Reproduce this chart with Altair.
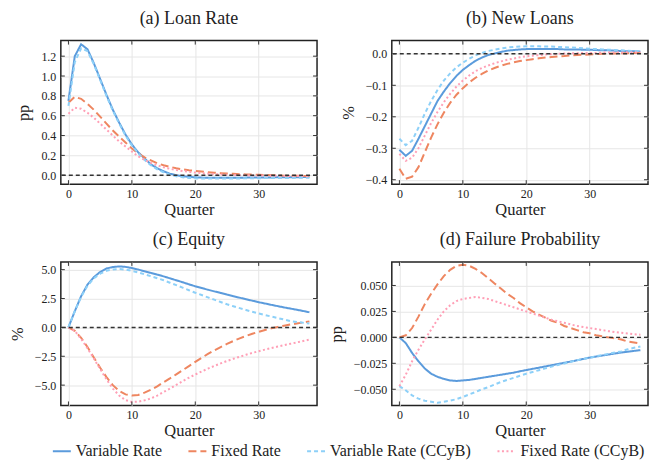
import altair as alt
import pandas as pd

quarters = list(range(39))
series_names = ["Variable Rate", "Fixed Rate", "Variable Rate (CCyB)", "Fixed Rate (CCyB)"]
series_colors = ["#5b9bdc", "#ee8660", "#8dd0f8", "#ff9fb6"]
series_dashes = [[1, 0], [8, 4], [4, 3], [2, 2.5]]

# (a) Loan Rate, pp
VR_a = [0.75, 1.20, 1.32, 1.27, 1.13, 0.97, 0.81, 0.66, 0.53, 0.41, 0.31, 0.23, 0.17, 0.11, 0.07, 0.04, 0.015, 0.0,
        -0.01, -0.017, -0.021, -0.024, -0.025, -0.026, -0.026, -0.026, -0.025, -0.025, -0.024, -0.024, -0.023, -0.022,
        -0.022, -0.021, -0.021, -0.020, -0.020, -0.019, -0.019]
FR_a = [0.73, 0.79, 0.77, 0.72, 0.66, 0.59, 0.52, 0.45, 0.39, 0.33, 0.27, 0.22, 0.18, 0.15, 0.12, 0.10, 0.085, 0.07,
        0.06, 0.05, 0.043, 0.037, 0.031, 0.026, 0.021, 0.017, 0.014, 0.011, 0.008, 0.006, 0.004, 0.002, 0.0, -0.002,
        -0.004, -0.005, -0.006, -0.007, -0.008]
VC_a = [0.70, 1.14, 1.28, 1.25, 1.12, 0.96, 0.80, 0.65, 0.52, 0.40, 0.30, 0.22, 0.155, 0.10, 0.06, 0.03, 0.005, -0.01,
        -0.02, -0.027, -0.031, -0.033, -0.034, -0.034, -0.034, -0.033, -0.033, -0.032, -0.031, -0.030, -0.030, -0.029,
        -0.028, -0.028, -0.027, -0.027, -0.026, -0.026, -0.025]
FC_a = [0.62, 0.68, 0.67, 0.63, 0.58, 0.52, 0.46, 0.40, 0.34, 0.29, 0.24, 0.19, 0.155, 0.125, 0.10, 0.08, 0.065, 0.052,
        0.042, 0.034, 0.027, 0.021, 0.016, 0.012, 0.008, 0.005, 0.003, 0.001, -0.001, -0.002, -0.003, -0.004, -0.005,
        -0.006, -0.007, -0.008, -0.009, -0.009, -0.010]

# (b) New Loans, %
VR_b = [-0.305, -0.324, -0.308, -0.27, -0.23, -0.19, -0.15, -0.12, -0.093, -0.07, -0.051, -0.036, -0.022, -0.012,
        -0.004, 0.001, 0.006, 0.010, 0.012, 0.014, 0.015, 0.015, 0.015, 0.015, 0.015, 0.015, 0.014, 0.014, 0.014, 0.013,
        0.013, 0.012, 0.011, 0.011, 0.010, 0.009, 0.008, 0.008, 0.007]
FR_b = [-0.365, -0.397, -0.39, -0.36, -0.313, -0.266, -0.224, -0.187, -0.156, -0.13, -0.109, -0.091, -0.076, -0.064,
        -0.053, -0.045, -0.038, -0.032, -0.027, -0.023, -0.020, -0.017, -0.014, -0.012, -0.010, -0.008, -0.007, -0.005,
        -0.004, -0.003, -0.002, -0.001, 0.0, 0.001, 0.001, 0.002, 0.002, 0.003, 0.003]
VC_b = [-0.27, -0.29, -0.276, -0.235, -0.19, -0.15, -0.115, -0.085, -0.062, -0.043, -0.028, -0.016, -0.005, 0.003,
        0.009, 0.013, 0.017, 0.020, 0.022, 0.023, 0.024, 0.024, 0.024, 0.023, 0.023, 0.022, 0.021, 0.020, 0.019, 0.018,
        0.016, 0.015, 0.014, 0.013, 0.012, 0.011, 0.010, 0.009, 0.009]
FC_b = [-0.318, -0.34, -0.33, -0.30, -0.26, -0.22, -0.185, -0.154, -0.127, -0.104, -0.085, -0.069, -0.055, -0.045,
        -0.037, -0.030, -0.024, -0.019, -0.015, -0.011, -0.008, -0.006, -0.004, -0.002, -0.001, 0.0, 0.001, 0.002,
        0.002, 0.003, 0.003, 0.003, 0.004, 0.004, 0.004, 0.004, 0.005, 0.005, 0.005]

# (c) Equity, %
VR_c = [0.0, 1.4, 2.7, 3.7, 4.35, 4.8, 5.1, 5.23, 5.28, 5.24, 5.14, 5.01, 4.86, 4.72, 4.57, 4.42, 4.25, 4.08, 3.91,
        3.73, 3.56, 3.41, 3.26, 3.12, 2.98, 2.84, 2.70, 2.57, 2.44, 2.31, 2.18, 2.07, 1.95, 1.84, 1.73, 1.63, 1.53,
        1.42, 1.31]
FR_c = [0.0, -0.3, -0.9, -1.7, -2.6, -3.5, -4.3, -5.0, -5.5, -5.8, -5.9, -5.85, -5.65, -5.4, -5.1, -4.75, -4.42,
        -4.07, -3.71, -3.35, -2.98, -2.63, -2.30, -1.99, -1.70, -1.43, -1.18, -0.95, -0.74, -0.55, -0.38, -0.22, -0.08,
        0.04, 0.15, 0.25, 0.34, 0.43, 0.52]
VC_c = [0.0, 1.4, 2.65, 3.6, 4.25, 4.65, 4.9, 5.02, 5.05, 5.0, 4.9, 4.76, 4.6, 4.43, 4.26, 4.08, 3.87, 3.66, 3.44,
        3.22, 3.0, 2.80, 2.60, 2.40, 2.20, 2.0, 1.83, 1.67, 1.51, 1.35, 1.2, 1.07, 0.94, 0.81, 0.68, 0.55, 0.47, 0.40,
        0.33]
FC_c = [0.0, -0.3, -1.0, -1.8, -2.7, -3.6, -4.5, -5.3, -5.9, -6.3, -6.45, -6.43, -6.32, -6.15, -5.9, -5.6, -5.3,
        -4.98, -4.66, -4.36, -4.08, -3.82, -3.57, -3.34, -3.12, -2.91, -2.72, -2.54, -2.37, -2.21, -2.06, -1.92, -1.79,
        -1.66, -1.54, -1.42, -1.30, -1.18, -1.06]

# (d) Failure Probability, pp
VR_d = [0.0, -0.0055, -0.015, -0.023, -0.030, -0.035, -0.038, -0.040, -0.0415, -0.042, -0.0415, -0.041, -0.040,
        -0.039, -0.038, -0.037, -0.036, -0.035, -0.034, -0.0327, -0.0315, -0.0303, -0.0292, -0.028, -0.0268, -0.0257,
        -0.0245, -0.0233, -0.0221, -0.0208, -0.0195, -0.0185, -0.0175, -0.0165, -0.0155, -0.0146, -0.0138, -0.013,
        -0.0123]
FR_d = [0.0, 0.002, 0.009, 0.020, 0.032, 0.042, 0.051, 0.059, 0.065, 0.069, 0.070, 0.069, 0.066, 0.062, 0.057,
        0.052, 0.047, 0.042, 0.038, 0.033, 0.029, 0.025, 0.022, 0.019, 0.016, 0.014, 0.011, 0.009, 0.007, 0.005, 0.004,
        0.002, 0.001, 0.0, -0.001, -0.002, -0.004, -0.005, -0.006]
VC_d = [-0.047, -0.051, -0.056, -0.059, -0.061, -0.062, -0.063, -0.062, -0.061, -0.0595, -0.0575, -0.055, -0.0526,
        -0.050, -0.048, -0.0455, -0.043, -0.041, -0.039, -0.037, -0.035, -0.0333, -0.0316, -0.0299, -0.0282, -0.0266,
        -0.0251, -0.0236, -0.0221, -0.0208, -0.0195, -0.0182, -0.017, -0.0158, -0.0146, -0.0135, -0.0115, -0.010,
        -0.0088]
FC_d = [-0.047, -0.036, -0.023, -0.012, -0.002, 0.0075, 0.017, 0.025, 0.031, 0.035, 0.037, 0.038, 0.039, 0.038,
        0.037, 0.035, 0.033, 0.031, 0.029, 0.027, 0.025, 0.023, 0.021, 0.019, 0.017, 0.0155, 0.014, 0.0125, 0.011,
        0.010, 0.009, 0.008, 0.007, 0.006, 0.005, 0.0045, 0.0037, 0.003, 0.0026]

x_ticks = [0, 10, 20, 30]

FONT = "Liberation Serif, DejaVu Serif, serif"
W, H = 257, 144
TL = 4  # inward tick length


def panel(title, ytitle, ydomain, yticks, yfmt, series):
    rows = []
    for name, vals in zip(series_names, series):
        for q, v in zip(quarters, vals):
            rows.append({"quarter": q, "value": v, "series": name})
    df = pd.DataFrame(rows)
    xs = alt.Scale(domain=[-1.2, 39.2], nice=False, zero=False)
    ys = alt.Scale(domain=ydomain, nice=False, zero=False)
    xax = alt.Axis(title="Quarter", values=x_ticks, format="d")
    yax = alt.Axis(title=ytitle, values=yticks, format=yfmt)
    legend = alt.Legend(title=None, orient="none", legendX=-9, legendY=402, direction="horizontal",
                        columns=4, symbolType="stroke", symbolStrokeWidth=2, symbolSize=324, padding=0,
                        labelFont=FONT, labelFontSize=16, labelColor="#222", columnPadding=22, labelOffset=4,
                        labelLimit=300)
    zero = alt.Chart(pd.DataFrame({"z": [0]})).mark_rule(
        color="#333", strokeDash=[4, 3], strokeWidth=1.5).encode(
        y=alt.Y("z:Q", scale=ys, axis=yax))
    lines = alt.Chart(df).mark_line(strokeWidth=2, clip=True).encode(
        x=alt.X("quarter:Q", scale=xs, axis=xax),
        y=alt.Y("value:Q", scale=ys, axis=yax),
        color=alt.Color("series:N", scale=alt.Scale(domain=series_names, range=series_colors), legend=legend),
        strokeDash=alt.StrokeDash("series:N", scale=alt.Scale(domain=series_names, range=series_dashes),
                                  legend=legend),
    )
    xt = pd.DataFrame({"t": x_ticks})
    yt = pd.DataFrame({"t": yticks})
    tick_style = dict(color="#333", strokeWidth=1)
    xb = alt.Chart(xt).mark_rule(**tick_style).encode(
        x=alt.X("t:Q", scale=xs, axis=xax), y=alt.value(H), y2=alt.value(H - TL))
    xtop = alt.Chart(xt).mark_rule(**tick_style).encode(
        x=alt.X("t:Q", scale=xs, axis=xax), y=alt.value(0), y2=alt.value(TL))
    yl = alt.Chart(yt).mark_rule(**tick_style).encode(
        y=alt.Y("t:Q", scale=ys, axis=yax), x=alt.value(0), x2=alt.value(TL))
    yr = alt.Chart(yt).mark_rule(**tick_style).encode(
        y=alt.Y("t:Q", scale=ys, axis=yax), x=alt.value(W - TL), x2=alt.value(W))
    return alt.layer(lines, zero, xb, xtop, yl, yr).properties(
        width=W, height=H,
        title=alt.TitleParams(title, font=FONT, fontSize=18, fontWeight="normal", color="#222",
                              anchor="middle", offset=12))


pa = panel("(a) Loan Rate", "pp", [-0.09, 1.357], [0.0, 0.2, 0.4, 0.6, 0.8, 1.0, 1.2], ".1f",
           [VR_a, FR_a, VC_a, FC_a])
pb = panel("(b) New Loans", "%", [-0.414, 0.042], [-0.4, -0.3, -0.2, -0.1, 0.0], ".1f",
           [VR_b, FR_b, VC_b, FC_b])
pc = panel("(c) Equity", "%", [-6.76, 5.67], [-5.0, -2.5, 0.0, 2.5, 5.0], ".1f",
           [VR_c, FR_c, VC_c, FC_c])
pd_ = panel("(d) Failure Probability", "pp", [-0.0656, 0.0727], [-0.05, -0.025, 0.0, 0.025, 0.05], ".3f",
            [VR_d, FR_d, VC_d, FC_d])

chart = alt.concat(pa, pb, pc, pd_, columns=2, spacing={"row": 11, "column": 8}).properties(
    padding={"left": 0, "top": 0, "right": 0, "bottom": 0}
).configure_axis(
    labelFont=FONT, labelFontSize=12, labelColor="#222",
    titleFont=FONT, titleFontSize=16.5, titleFontWeight="normal", titleColor="#222",
    ticks=False, domain=False, grid=True, gridColor="#e6e6e6", gridWidth=1,
).configure_axisX(labelPadding=4, titlePadding=2).configure_axisY(labelPadding=5, titlePadding=9).configure_view(
    stroke="#222", strokeWidth=1.5
)

chart.save("out.html", embed_options={"renderer": "svg", "actions": False})
